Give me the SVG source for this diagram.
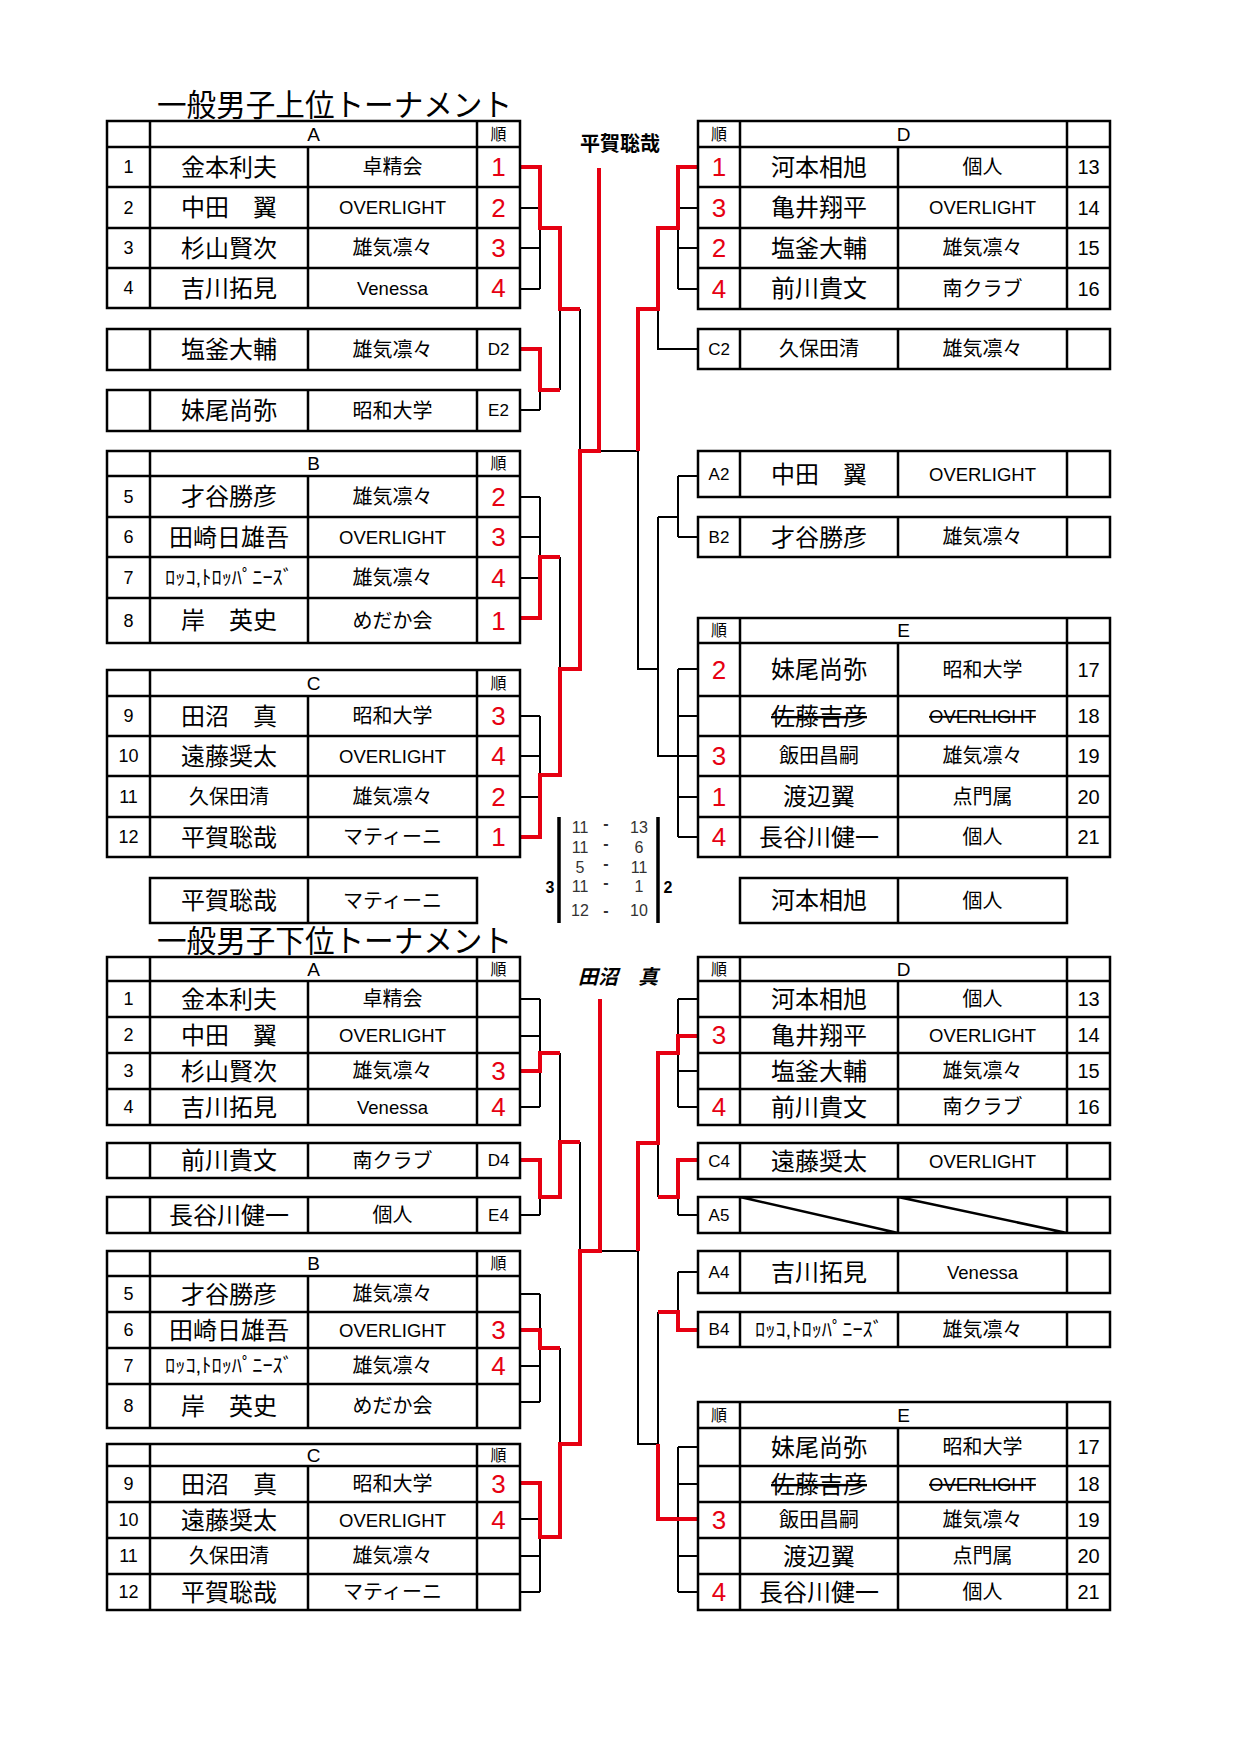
<svg xmlns="http://www.w3.org/2000/svg" width="1240" height="1754" viewBox="0 0 1240 1754">
<style>
text{font-family:"Liberation Sans","Noto Sans CJK JP",sans-serif;text-anchor:middle;dominant-baseline:central;fill:#000}
.g{fill:none;stroke:#000;stroke-width:2.5}
.k{fill:none;stroke:#000;stroke-width:2}
.r{fill:none;stroke:#e60012;stroke-width:4}
.n{font-size:18px}
.nr{font-size:20px}
.h{font-size:19px}
.j{font-size:16px}
.m{font-size:24px}
.s{font-size:20px}
.o{font-size:18.5px}
.sc{font-size:26px;fill:#e60012}
.lb{font-size:17px}
.tt{font-size:31px;text-anchor:start;dominant-baseline:auto}
.sv{font-size:16px;fill:#333}
.bd{font-weight:bold}
.st{text-decoration:line-through}
</style>
<rect width="1240" height="1754" fill="#fff"/>

<text class="tt" x="157" y="116" textLength="355" lengthAdjust="spacingAndGlyphs">一般男子上位トーナメント</text>
<text class="tt" x="157" y="952" textLength="355" lengthAdjust="spacingAndGlyphs">一般男子下位トーナメント</text>

<g id="connectors">
<path class="k" d="M520 208H540M520 248H540M520 289H540M540 228V289M520 410H540M540 390V410M560 309V390M580 309V451M520 497H540M520 537H540M520 578H540M540 497V557M560 557V669M520 716H540M520 756H540M520 797H540M540 716V775M599 451H638"/>
<path class="k" d="M678 208H698M678 248H698M678 289H698M678 228V289M658 309V349H698M638 451V669H658M678 476H698M678 537H698M678 476V537M658 517H678M658 517V756H698M678 669V837M678 669H698M678 716H698M678 797H698M678 837H698"/>
<path class="k" d="M520 999H540M520 1036H540M520 1107H540M540 999V1107M560 1053V1142M520 1215H540M540 1197V1215M580 1142V1251M520 1294H540M520 1366H540M520 1402H540M540 1294V1402M560 1348V1444M520 1519H540M520 1556H540M520 1592H540M540 1537V1592M600 1251H638"/>
<path class="k" d="M678 999H698M678 1071H698M678 1107H698M678 999V1107M658 1143V1197M678 1215H698M678 1197V1215M638 1251V1444H658M678 1272H698M678 1272V1312M658 1312V1444M678 1447V1592M678 1447H698M678 1484H698M678 1556H698M678 1592H698"/>
<path class="r" d="M520 167H540V228H560V309H580M520 349H540V390H560M520 618H540V557H560M520 837H540V775H560V669H580V451H599V168"/>
<path class="r" d="M698 167H678V228H658V309H638V451"/>
<path class="r" d="M520 1071H540V1053H560M520 1160H540V1197H560V1142H580M520 1330H540V1348H560M520 1483H540V1537H560V1444H580V1251H600V999"/>
<path class="r" d="M698 1036H678V1053H658V1143H638V1251M698 1160H678V1197H658M698 1330H678V1312H658M658 1444V1519H698"/>
</g>

<g id="winner-top">
<text class="bd" x="620" y="144" style="font-size:20px">平賀聡哉</text>
</g>
<g id="winner-bottom">
<text class="bd" x="618" y="977" style="font-size:20px;font-style:italic">田沼　真</text>
</g>

<g id="final-score">
<path d="M559 817V923M658 817V923" fill="none" stroke="#000" stroke-width="3.5"/>
<text class="sv" x="580" y="827">11</text><text class="sv bd" x="606" y="823">-</text><text class="sv" x="639" y="827">13</text>
<text class="sv" x="580" y="847">11</text><text class="sv bd" x="606" y="843">-</text><text class="sv" x="639" y="847">6</text>
<text class="sv" x="580" y="867">5</text><text class="sv bd" x="606" y="863">-</text><text class="sv" x="639" y="867">11</text>
<text class="sv" x="580" y="886">11</text><text class="sv bd" x="606" y="882">-</text><text class="sv" x="639" y="886">1</text>
<text class="sv" x="580" y="910">12</text><text class="sv bd" x="606" y="910">-</text><text class="sv" x="639" y="910">10</text>
<text class="bd" x="550" y="887" style="font-size:16px">3</text>
<text class="bd" x="668" y="887" style="font-size:16px">2</text>
</g>

<!-- TOP LEFT -->
<g id="top-A">
<path class="g" d="M107 121H520V308H107ZM150 121V308M477 121V308M308 147V308M107 147H520M107 187H520M107 228H520M107 268H520"/>
<text class="h" x="313.5" y="134">A</text><text class="j" x="498.5" y="134">順</text>
<text class="n" x="128.5" y="167">1</text><text class="m" x="229" y="167">金本利夫</text><text class="s" x="392.5" y="167">卓精会</text><text class="sc" x="498.5" y="167">1</text>
<text class="n" x="128.5" y="207.5">2</text><text class="m" x="229" y="207.5">中田　翼</text><text class="o" x="392.5" y="207.5">OVERLIGHT</text><text class="sc" x="498.5" y="207.5">2</text>
<text class="n" x="128.5" y="248">3</text><text class="m" x="229" y="248">杉山賢次</text><text class="s" x="392.5" y="248">雄気凛々</text><text class="sc" x="498.5" y="248">3</text>
<text class="n" x="128.5" y="288">4</text><text class="m" x="229" y="288">吉川拓見</text><text class="o" x="392.5" y="288">Venessa</text><text class="sc" x="498.5" y="288">4</text>
</g>
<g id="top-D2">
<path class="g" d="M107 329H520V370H107ZM150 329V370M308 329V370M477 329V370"/>
<text class="m" x="229" y="349.5">塩釜大輔</text><text class="s" x="392.5" y="349.5">雄気凛々</text><text class="lb" x="498.5" y="349.5">D2</text>
</g>
<g id="top-E2">
<path class="g" d="M107 390H520V431H107ZM150 390V431M308 390V431M477 390V431"/>
<text class="m" x="229" y="410.5">妹尾尚弥</text><text class="s" x="392.5" y="410.5">昭和大学</text><text class="lb" x="498.5" y="410.5">E2</text>
</g>
<g id="top-B">
<path class="g" d="M107 451H520V643H107ZM150 451V643M477 451V643M308 476V643M107 476H520M107 517H520M107 557H520M107 598H520"/>
<text class="h" x="313.5" y="463.5">B</text><text class="j" x="498.5" y="463.5">順</text>
<text class="n" x="128.5" y="496.5">5</text><text class="m" x="229" y="496.5">才谷勝彦</text><text class="s" x="392.5" y="496.5">雄気凛々</text><text class="sc" x="498.5" y="496.5">2</text>
<text class="n" x="128.5" y="537">6</text><text class="m" x="229" y="537">田崎日雄吾</text><text class="o" x="392.5" y="537">OVERLIGHT</text><text class="sc" x="498.5" y="537">3</text>
<text class="n" x="128.5" y="577.5">7</text><text class="s" x="229" y="577.5" textLength="128" lengthAdjust="spacingAndGlyphs">ﾛｯｺ,ﾄﾛｯﾊﾟﾆｰｽﾞ</text><text class="s" x="392.5" y="577.5">雄気凛々</text><text class="sc" x="498.5" y="577.5">4</text>
<text class="n" x="128.5" y="620.5">8</text><text class="m" x="229" y="620.5">岸　英史</text><text class="s" x="392.5" y="620.5">めだか会</text><text class="sc" x="498.5" y="620.5">1</text>
</g>
<g id="top-C">
<path class="g" d="M107 670H520V857H107ZM150 670V857M477 670V857M308 696V857M107 696H520M107 736H520M107 776H520M107 817H520"/>
<text class="h" x="313.5" y="683">C</text><text class="j" x="498.5" y="683">順</text>
<text class="n" x="128.5" y="716">9</text><text class="m" x="229" y="716">田沼　真</text><text class="s" x="392.5" y="716">昭和大学</text><text class="sc" x="498.5" y="716">3</text>
<text class="n" x="128.5" y="756">10</text><text class="m" x="229" y="756">遠藤奨太</text><text class="o" x="392.5" y="756">OVERLIGHT</text><text class="sc" x="498.5" y="756">4</text>
<text class="n" x="128.5" y="796.5">11</text><text class="s" x="229" y="796.5">久保田清</text><text class="s" x="392.5" y="796.5">雄気凛々</text><text class="sc" x="498.5" y="796.5">2</text>
<text class="n" x="128.5" y="837">12</text><text class="m" x="229" y="837">平賀聡哉</text><text class="s" x="392.5" y="837">マティーニ</text><text class="sc" x="498.5" y="837">1</text>
</g>
<g id="top-left-extra">
<path class="g" d="M150 878H477V923H150ZM308 878V923"/>
<text class="m" x="229" y="900.5">平賀聡哉</text><text class="s" x="392.5" y="900.5">マティーニ</text>
</g>

<!-- TOP RIGHT -->
<g id="top-D">
<path class="g" d="M698 121H1110V309H698ZM740 121V309M1067 121V309M898 147V309M698 147H1110M698 187H1110M698 228H1110M698 268H1110"/>
<text class="j" x="719" y="134">順</text><text class="h" x="903.5" y="134">D</text>
<text class="sc" x="719" y="167">1</text><text class="m" x="819" y="167">河本相旭</text><text class="s" x="982.5" y="167">個人</text><text class="nr" x="1088.5" y="167">13</text>
<text class="sc" x="719" y="207.5">3</text><text class="m" x="819" y="207.5">亀井翔平</text><text class="o" x="982.5" y="207.5">OVERLIGHT</text><text class="nr" x="1088.5" y="207.5">14</text>
<text class="sc" x="719" y="248">2</text><text class="m" x="819" y="248">塩釜大輔</text><text class="s" x="982.5" y="248">雄気凛々</text><text class="nr" x="1088.5" y="248">15</text>
<text class="sc" x="719" y="288.5">4</text><text class="m" x="819" y="288.5">前川貴文</text><text class="s" x="982.5" y="288.5">南クラブ</text><text class="nr" x="1088.5" y="288.5">16</text>
</g>
<g id="top-C2">
<path class="g" d="M698 329H1110V369H698ZM740 329V369M898 329V369M1067 329V369"/>
<text class="lb" x="719" y="349">C2</text><text class="s" x="819" y="349">久保田清</text><text class="s" x="982.5" y="349">雄気凛々</text>
</g>
<g id="top-A2">
<path class="g" d="M698 451H1110V497H698ZM740 451V497M898 451V497M1067 451V497"/>
<text class="lb" x="719" y="474">A2</text><text class="m" x="819" y="474">中田　翼</text><text class="o" x="982.5" y="474">OVERLIGHT</text>
</g>
<g id="top-B2">
<path class="g" d="M698 517H1110V557H698ZM740 517V557M898 517V557M1067 517V557"/>
<text class="lb" x="719" y="537">B2</text><text class="m" x="819" y="537">才谷勝彦</text><text class="s" x="982.5" y="537">雄気凛々</text>
</g>
<g id="top-E">
<path class="g" d="M698 618H1110V857H698ZM740 618V857M1067 618V857M898 643V857M698 643H1110M698 696H1110M698 736H1110M698 776H1110M698 817H1110"/>
<text class="j" x="719" y="630.5">順</text><text class="h" x="903.5" y="630.5">E</text>
<text class="sc" x="719" y="669.5">2</text><text class="m" x="819" y="669.5">妹尾尚弥</text><text class="s" x="982.5" y="669.5">昭和大学</text><text class="nr" x="1088.5" y="669.5">17</text>
<text class="m st" x="819" y="716">佐藤吉彦</text><text class="o st" x="982.5" y="716">OVERLIGHT</text><text class="nr" x="1088.5" y="716">18</text>
<text class="sc" x="719" y="756">3</text><text class="s" x="819" y="756">飯田昌嗣</text><text class="s" x="982.5" y="756">雄気凛々</text><text class="nr" x="1088.5" y="756">19</text>
<text class="sc" x="719" y="796.5">1</text><text class="m" x="819" y="796.5">渡辺翼</text><text class="s" x="982.5" y="796.5">点門属</text><text class="nr" x="1088.5" y="796.5">20</text>
<text class="sc" x="719" y="837">4</text><text class="m" x="819" y="837">長谷川健一</text><text class="s" x="982.5" y="837">個人</text><text class="nr" x="1088.5" y="837">21</text>
</g>
<g id="top-right-extra">
<path class="g" d="M740 878H1067V923H740ZM898 878V923"/>
<text class="m" x="819" y="900.5">河本相旭</text><text class="s" x="982.5" y="900.5">個人</text>
</g>

<!-- BOTTOM LEFT -->
<g id="bot-A">
<path class="g" d="M107 957H520V1125H107ZM150 957V1125M477 957V1125M308 981V1125M107 981H520M107 1017H520M107 1053H520M107 1089H520"/>
<text class="h" x="313.5" y="969">A</text><text class="j" x="498.5" y="969">順</text>
<text class="n" x="128.5" y="999">1</text><text class="m" x="229" y="999">金本利夫</text><text class="s" x="392.5" y="999">卓精会</text>
<text class="n" x="128.5" y="1035">2</text><text class="m" x="229" y="1035">中田　翼</text><text class="o" x="392.5" y="1035">OVERLIGHT</text>
<text class="n" x="128.5" y="1071">3</text><text class="m" x="229" y="1071">杉山賢次</text><text class="s" x="392.5" y="1071">雄気凛々</text><text class="sc" x="498.5" y="1071">3</text>
<text class="n" x="128.5" y="1107">4</text><text class="m" x="229" y="1107">吉川拓見</text><text class="o" x="392.5" y="1107">Venessa</text><text class="sc" x="498.5" y="1107">4</text>
</g>
<g id="bot-D4">
<path class="g" d="M107 1143H520V1178H107ZM150 1143V1178M308 1143V1178M477 1143V1178"/>
<text class="m" x="229" y="1160.5">前川貴文</text><text class="s" x="392.5" y="1160.5">南クラブ</text><text class="lb" x="498.5" y="1160.5">D4</text>
</g>
<g id="bot-E4">
<path class="g" d="M107 1197H520V1233H107ZM150 1197V1233M308 1197V1233M477 1197V1233"/>
<text class="m" x="229" y="1215">長谷川健一</text><text class="s" x="392.5" y="1215">個人</text><text class="lb" x="498.5" y="1215">E4</text>
</g>
<g id="bot-B">
<path class="g" d="M107 1251H520V1428H107ZM150 1251V1428M477 1251V1428M308 1276V1428M107 1276H520M107 1312H520M107 1348H520M107 1384H520"/>
<text class="h" x="313.5" y="1263.5">B</text><text class="j" x="498.5" y="1263.5">順</text>
<text class="n" x="128.5" y="1294">5</text><text class="m" x="229" y="1294">才谷勝彦</text><text class="s" x="392.5" y="1294">雄気凛々</text>
<text class="n" x="128.5" y="1330">6</text><text class="m" x="229" y="1330">田崎日雄吾</text><text class="o" x="392.5" y="1330">OVERLIGHT</text><text class="sc" x="498.5" y="1330">3</text>
<text class="n" x="128.5" y="1366">7</text><text class="s" x="229" y="1366" textLength="128" lengthAdjust="spacingAndGlyphs">ﾛｯｺ,ﾄﾛｯﾊﾟﾆｰｽﾞ</text><text class="s" x="392.5" y="1366">雄気凛々</text><text class="sc" x="498.5" y="1366">4</text>
<text class="n" x="128.5" y="1406">8</text><text class="m" x="229" y="1406">岸　英史</text><text class="s" x="392.5" y="1406">めだか会</text>
</g>
<g id="bot-C">
<path class="g" d="M107 1444H520V1610H107ZM150 1444V1610M477 1444V1610M308 1466V1610M107 1466H520M107 1502H520M107 1538H520M107 1574H520"/>
<text class="h" x="313.5" y="1455">C</text><text class="j" x="498.5" y="1455">順</text>
<text class="n" x="128.5" y="1484">9</text><text class="m" x="229" y="1484">田沼　真</text><text class="s" x="392.5" y="1484">昭和大学</text><text class="sc" x="498.5" y="1484">3</text>
<text class="n" x="128.5" y="1520">10</text><text class="m" x="229" y="1520">遠藤奨太</text><text class="o" x="392.5" y="1520">OVERLIGHT</text><text class="sc" x="498.5" y="1520">4</text>
<text class="n" x="128.5" y="1556">11</text><text class="s" x="229" y="1556">久保田清</text><text class="s" x="392.5" y="1556">雄気凛々</text>
<text class="n" x="128.5" y="1592">12</text><text class="m" x="229" y="1592">平賀聡哉</text><text class="s" x="392.5" y="1592">マティーニ</text>
</g>

<!-- BOTTOM RIGHT -->
<g id="bot-D">
<path class="g" d="M698 957H1110V1125H698ZM740 957V1125M1067 957V1125M898 981V1125M698 981H1110M698 1017H1110M698 1053H1110M698 1089H1110"/>
<text class="j" x="719" y="969">順</text><text class="h" x="903.5" y="969">D</text>
<text class="m" x="819" y="999">河本相旭</text><text class="s" x="982.5" y="999">個人</text><text class="nr" x="1088.5" y="999">13</text>
<text class="sc" x="719" y="1035">3</text><text class="m" x="819" y="1035">亀井翔平</text><text class="o" x="982.5" y="1035">OVERLIGHT</text><text class="nr" x="1088.5" y="1035">14</text>
<text class="m" x="819" y="1071">塩釜大輔</text><text class="s" x="982.5" y="1071">雄気凛々</text><text class="nr" x="1088.5" y="1071">15</text>
<text class="sc" x="719" y="1107">4</text><text class="m" x="819" y="1107">前川貴文</text><text class="s" x="982.5" y="1107">南クラブ</text><text class="nr" x="1088.5" y="1107">16</text>
</g>
<g id="bot-C4">
<path class="g" d="M698 1143H1110V1179H698ZM740 1143V1179M898 1143V1179M1067 1143V1179"/>
<text class="lb" x="719" y="1161">C4</text><text class="m" x="819" y="1161">遠藤奨太</text><text class="o" x="982.5" y="1161">OVERLIGHT</text>
</g>
<g id="bot-A5">
<path class="g" d="M698 1197H1110V1233H698ZM740 1197V1233M898 1197V1233M1067 1197V1233M740 1197L898 1233M898 1197L1067 1233"/>
<text class="lb" x="719" y="1215">A5</text>
</g>
<g id="bot-A4">
<path class="g" d="M698 1251H1110V1293H698ZM740 1251V1293M898 1251V1293M1067 1251V1293"/>
<text class="lb" x="719" y="1272">A4</text><text class="m" x="819" y="1272">吉川拓見</text><text class="o" x="982.5" y="1272">Venessa</text>
</g>
<g id="bot-B4">
<path class="g" d="M698 1312H1110V1347H698ZM740 1312V1347M898 1312V1347M1067 1312V1347"/>
<text class="lb" x="719" y="1329.5">B4</text><text class="s" x="819" y="1329.5" textLength="128" lengthAdjust="spacingAndGlyphs">ﾛｯｺ,ﾄﾛｯﾊﾟﾆｰｽﾞ</text><text class="s" x="982.5" y="1329.5">雄気凛々</text>
</g>
<g id="bot-E">
<path class="g" d="M698 1402H1110V1610H698ZM740 1402V1610M1067 1402V1610M898 1428V1610M698 1428H1110M698 1466H1110M698 1502H1110M698 1538H1110M698 1574H1110"/>
<text class="j" x="719" y="1415">順</text><text class="h" x="903.5" y="1415">E</text>
<text class="m" x="819" y="1447">妹尾尚弥</text><text class="s" x="982.5" y="1447">昭和大学</text><text class="nr" x="1088.5" y="1447">17</text>
<text class="m st" x="819" y="1484">佐藤吉彦</text><text class="o st" x="982.5" y="1484">OVERLIGHT</text><text class="nr" x="1088.5" y="1484">18</text>
<text class="sc" x="719" y="1520">3</text><text class="s" x="819" y="1520">飯田昌嗣</text><text class="s" x="982.5" y="1520">雄気凛々</text><text class="nr" x="1088.5" y="1520">19</text>
<text class="m" x="819" y="1556">渡辺翼</text><text class="s" x="982.5" y="1556">点門属</text><text class="nr" x="1088.5" y="1556">20</text>
<text class="sc" x="719" y="1592">4</text><text class="m" x="819" y="1592">長谷川健一</text><text class="s" x="982.5" y="1592">個人</text><text class="nr" x="1088.5" y="1592">21</text>
</g>
</svg>
